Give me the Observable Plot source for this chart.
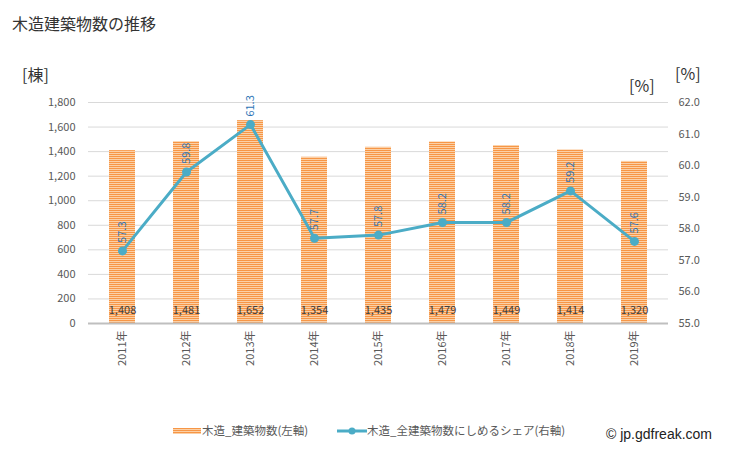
<!DOCTYPE html>
<html><head><meta charset="utf-8">
<script src="https://cdn.jsdelivr.net/npm/d3@7"></script>
<script src="https://cdn.jsdelivr.net/npm/@observablehq/plot@0.6"></script>
<style>
body{margin:0;background:#fff;font-family:"Noto Sans CJK JP","Noto Sans",sans-serif;}
#wrap{position:relative;width:729px;height:450px;overflow:hidden;}
#title{height:40px;font-size:16px;color:#333;padding-left:12px;line-height:46px;}
.abs{position:absolute;white-space:nowrap;}
.unit{font-size:16px;color:#333;}
.leg{font-size:11.5px;color:#595959;}
</style></head>
<body><div id="wrap">
<div id="title">木造建築物数の推移</div>
<div id="chart"></div>
<div class="abs unit" style="left:22px;top:62px;">[棟]</div>
<div class="abs unit" style="left:629px;top:73px;">[%]</div>
<div class="abs unit" style="left:675px;top:61px;">[%]</div>
<svg class="abs" style="left:173px;top:428px;" width="28" height="6"><defs><pattern id="lstripes" patternUnits="userSpaceOnUse" width="4" height="2"><rect width="4" height="2" fill="#fbd0a6"/><rect width="4" height="1" fill="#f79646"/></pattern></defs><rect width="28" height="6" fill="url(#lstripes)"/></svg>
<div class="abs leg" style="left:202px;top:422px;">木造_建築物数(左軸)</div>
<svg class="abs" style="left:337px;top:426px;" width="30" height="10"><line x1="0" x2="30" y1="5" y2="5" stroke="#4bacc6" stroke-width="3"/><circle cx="15" cy="5" r="3.5" fill="#4bacc6"/></svg>
<div class="abs leg" style="left:367px;top:422px;">木造_全建築物数にしめるシェア(右軸)</div>
<div class="abs" style="left:606px;top:426px;font-size:14px;color:#222;font-family:'Liberation Sans',sans-serif;">© jp.gdfreak.com</div>
</div>
<script>
const years = ["2011年","2012年","2013年","2014年","2015年","2016年","2017年","2018年","2019年"];
const counts = [1408,1481,1652,1354,1435,1479,1449,1414,1320];
const shares = [57.3,59.8,61.3,57.7,57.8,58.2,58.2,59.2,57.6];
const leftTicks = [0,200,400,600,800,1000,1200,1400,1600,1800];
const rightTicks = [55,56,57,58,59,60,61,62];

const toLeft = p => (p - 55) / 7 * 1800;
const toPct = v => 55 + v / 1800 * 7;
const data = years.map((y, i) => ({year: y, count: counts[i], share: shares[i]}));
const fmt = d3.format(",");

const chart = Plot.plot({
  width: 729, height: 370,
  marginTop: 62, marginBottom: 87, marginLeft: 88, marginRight: 61,
  style: {fontFamily: '"Noto Sans CJK JP","Noto Sans",sans-serif', fontSize: "11px", color: "#595959", background: "white"},
  x: {type: "band", domain: years, paddingInner: 0.6, paddingOuter: 0.3, label: null},
  y: {domain: [0, 1800], label: null},
  marks: [
    Plot.gridY(leftTicks, {stroke: "#d9d9d9", strokeOpacity: 1}),
    Plot.barY(data, {x: "year", y: "count", fill: "url(#stripes)"}),
    Plot.ruleY([0], {stroke: "#bfbfbf", strokeWidth: 2}),
    Plot.axisY(leftTicks, {anchor: "left", tickSize: 0, tickPadding: 13, tickFormat: fmt, label: null}),
    Plot.axisY(rightTicks.map(toLeft), {anchor: "right", tickSize: 0, tickPadding: 10, tickFormat: d => toPct(d).toFixed(1), label: null}),
    Plot.axisX({tickRotate: -90, tickSize: 0, tickPadding: 7, label: null}),
    Plot.line(data, {x: "year", y: d => toLeft(d.share), stroke: "#4bacc6", strokeWidth: 3}),
    Plot.dot(data, {x: "year", y: d => toLeft(d.share), r: 4.5, fill: "#4bacc6"}),
    Plot.text(data, {x: "year", y: d => toLeft(d.share), text: d => d.share.toFixed(1), rotate: -90, textAnchor: "start", dy: -8, fill: "#2e75b6"}),
    Plot.text(data, {x: "year", y: 0, dy: -13, text: d => fmt(d.count), fill: "#404040"})
  ]
});
d3.select(chart).insert("defs", ":first-child").html('<pattern id="stripes" patternUnits="userSpaceOnUse" width="4" height="2"><rect width="4" height="2" fill="#fbd0a6"/><rect width="4" height="1" fill="#f79646"/></pattern>');
document.getElementById("chart").appendChild(chart);
</script>
</body></html>
